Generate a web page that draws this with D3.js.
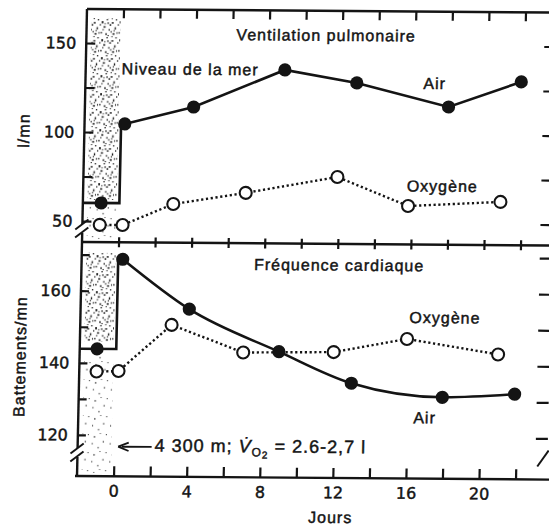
<!DOCTYPE html>
<html>
<head>
<meta charset="utf-8">
<script src="https://cdn.jsdelivr.net/npm/d3@7"></script>
<style>
  body { margin: 0; background: #fff; }
  svg text { font-family: "Liberation Sans", Arial, sans-serif; fill: #141414; letter-spacing: 1px;
             stroke: #141414; stroke-width: 0.45px; }
  svg .num text, svg text.num { font-family: "DejaVu Sans", sans-serif; letter-spacing: 0; }
</style>
</head>
<body>
<svg id="chart" width="549" height="526"></svg>
<script>
// Ventilation pulmonaire (l/mn)
const ventAirDays = [-1.0, 0.2, 3.95, 8.9, 12.85, 17.9, 21.85];
const ventAir     = [60.2, 104.7, 114.5, 135.7, 128.7, 115.6, 130.0];
const ventO2Days  = [-1.05, 0.2, 2.95, 6.9, 11.9, 15.8, 20.85];
const ventO2      = [47.9, 47.9, 59.9, 66.5, 75.8, 59.8, 62.5];

// Fréquence cardiaque (battements/mn)
const hrAirDays = [-1.05, 0.25, 3.95, 8.9, 12.9, 17.9, 21.85];
const hrAir     = [143.9, 168.8, 155.1, 143.5, 134.9, 131.2, 132.2];
const hrO2Days  = [-1.05, 0.15, 3.0, 6.95, 11.9, 15.9, 20.9];
const hrO2      = [137.6, 137.8, 150.7, 143.2, 143.5, 147.3, 143.2];

// day of arrival at altitude
const altitudeDay = 0;

// axes
const dayTicks   = d3.range(0, 23, 2);
const dayLabels  = [0, 4, 8, 12, 16, 20];
const ventTicks  = [150, 125, 100, 75, 50];
const ventLabels = [150, 100, 50];
const hrTicks    = [170, 160, 150, 140, 130, 120];
const hrLabels   = [160, 140, 120];

const ink = "#141414";
const svg = d3.select("#chart");

// the printed sheet is very slightly sheared
const sheet = svg.append("g")
  .attr("transform", "matrix(1,0.0076,-0.0214,1,10.19,-0.585)");

const x  = d3.scaleLinear().domain([-2, 23.8]).range([77, 548.4]);
const yV = d3.scaleLinear().domain([38.2, 169.1]).range([242, 9]);
const yH = d3.scaleLinear().domain([108.6, 173.5]).range([476, 242]);

// ---- stipple textures for the sea-level column ----
const defs = svg.append("defs");
const denseDots = [[2,3,1.8,2.2],[7,1,1.4,1.2],[12,4,2,1.4],[15,9,1.3,2.4],[4,8,2,1.6],[9,11,1.4,1.4],
  [1,14,1.6,1.3],[13,15,2,1.6],[6,15,1.3,2],[10,6,1.6,1.6],[16,1,1.3,1.3],[3,11,1.2,1.2],
  [11,13,1.2,1.4],[8,4,1.1,1.9],[14,12,1.2,1.2],[5,5,1.1,1.1],[0,6,1.2,1.4],[17,14,1,1.6],
  [8,17,1.4,1],[12,0,1.1,1.1]];
const sparseDots = [[3,4,1.2,1.4],[12,9,1.3,1.1],[7,15,1.1,1.2],[15,2,1,1],[1,11,1,1.2],[9,1,0.9,0.9]];
function pattern(id, dots) {
  const p = defs.append("pattern").attr("id", id)
    .attr("patternUnits", "userSpaceOnUse").attr("width", 18).attr("height", 18);
  p.selectAll("rect").data(dots).join("rect")
    .attr("x", d => d[0]).attr("y", d => d[1])
    .attr("width", d => d[2]).attr("height", d => d[3])
    .attr("fill", "#1c1c1c");
}
pattern("dense", denseDots);
pattern("sparse", sparseDots);

const shade = [
  { y: yV, lo: 62, hi: 164, fill: "url(#dense)" },
  { y: yV, lo: 40, hi: 58, fill: "url(#sparse)" },
  { y: yH, lo: 146, hi: 170.5, fill: "url(#dense)" },
  { y: yH, lo: 109.5, hi: 142, fill: "url(#sparse)" }
];
sheet.append("g").selectAll("rect").data(shade).join("rect")
  .attr("x", x(-1.75)).attr("width", x(-0.15) - x(-1.75))
  .attr("y", d => d.y(d.hi)).attr("height", d => d.y(d.lo) - d.y(d.hi))
  .attr("fill", d => d.fill);

// ---- frame ----
const frame = sheet.append("g").attr("stroke", ink).attr("stroke-width", 2.4).attr("fill", "none");
// top border, middle divider, bottom axis line
frame.append("line").attr("x1", x(-2)).attr("x2", 549).attr("y1", yV.range()[1]).attr("y2", yV.range()[1]);
frame.append("line").attr("x1", x(-2)).attr("x2", 549).attr("y1", 242).attr("y2", 242);
frame.append("line").attr("x1", x(-2) - 2).attr("x2", 549).attr("y1", 476).attr("y2", 476);
// left axis with breaks
frame.append("line").attr("x1", x(-2)).attr("x2", x(-2)).attr("y1", yV.range()[1]).attr("y2", 224);
frame.append("line").attr("x1", x(-2)).attr("x2", x(-2)).attr("y1", 233).attr("y2", 242);
frame.append("line").attr("x1", x(-2)).attr("x2", x(-2)).attr("y1", 242).attr("y2", 448);
frame.append("line").attr("x1", x(-2)).attr("x2", x(-2)).attr("y1", 457).attr("y2", 476);
function breakMark(cx, cy) {
  [-4, 4].forEach(o => {
    frame.append("line")
      .attr("x1", cx - 7).attr("y1", cy + o + 5)
      .attr("x2", cx + 6).attr("y2", cy + o - 5)
      .attr("stroke-width", 2);
  });
}
breakMark(x(-2), 228.5);
breakMark(x(-2), 452.5);
frame.append("line").attr("x1", 537).attr("y1", 463).attr("x2", 548).attr("y2", 447).attr("stroke-width", 2);

// ---- ticks via d3 axes ----
function styleAxis(g) {
  g.select(".domain").remove();
  g.selectAll(".tick line").attr("stroke", ink).attr("stroke-width", 2.2);
  g.selectAll(".tick text").attr("fill", ink);
}
// x ticks on top border (pointing down)
sheet.append("g").attr("transform", `translate(0,${yV.range()[1]})`)
  .call(d3.axisTop(x).tickValues(dayTicks).tickSizeInner(-9).tickSizeOuter(0).tickFormat(""))
  .call(styleAxis);
// x ticks across the middle divider
sheet.append("g").attr("transform", "translate(0,237)")
  .call(d3.axisBottom(x).tickValues(dayTicks).tickSizeInner(10).tickSizeOuter(0).tickFormat(""))
  .call(styleAxis);
// bottom x axis (ticks pointing up)
sheet.append("g").attr("class", "num").attr("transform", "translate(0,476)")
  .call(d3.axisBottom(x).tickValues(dayTicks).tickSizeInner(-10).tickSizeOuter(0).tickPadding(9)
    .tickFormat(d => dayLabels.includes(d) ? d : ""))
  .call(styleAxis)
  .call(g => g.selectAll(".tick text").attr("font-size", 16));

// left y axes
sheet.append("g").attr("class", "num").attr("transform", `translate(${x(-2)},0)`)
  .call(d3.axisLeft(yV).tickValues(ventTicks).tickSizeInner(-9).tickSizeOuter(0).tickPadding(10)
    .tickFormat(d => ventLabels.includes(d) ? d : ""))
  .call(styleAxis)
  .call(g => g.selectAll(".tick text").attr("font-size", 16));
sheet.append("g").attr("class", "num").attr("transform", `translate(${x(-2)},0)`)
  .call(d3.axisLeft(yH).tickValues(hrTicks).tickSizeInner(-8).tickSizeOuter(0).tickPadding(10)
    .tickFormat(d => hrLabels.includes(d) ? d : ""))
  .call(styleAxis)
  .call(g => g.selectAll(".tick text").attr("font-size", 16));

// right-hand ticks
sheet.append("g").attr("transform", "translate(547,0)")
  .call(d3.axisRight(yV).tickValues(ventTicks).tickSizeInner(-12).tickSizeOuter(0).tickFormat(""))
  .call(styleAxis);
sheet.append("g").attr("transform", "translate(547,0)")
  .call(d3.axisRight(yH).tickValues(hrTicks).tickSizeInner(-12).tickSizeOuter(0).tickFormat(""))
  .call(styleAxis);

// ---- series ----
const zip = (ds, vs) => ds.map((d, i) => [d, vs[i]]);
const ventAirPts = zip(ventAirDays, ventAir);
const ventO2Pts  = zip(ventO2Days, ventO2);
const hrAirPts   = zip(hrAirDays, hrAir);
const hrO2Pts    = zip(hrO2Days, hrO2);

const lineV = d3.line().x(d => x(d[0])).y(d => yV(d[1]));
const lineH = d3.line().x(d => x(d[0])).y(d => yH(d[1]));
const curveH = d3.line().x(d => x(d[0])).y(d => yH(d[1])).curve(d3.curveMonotoneX);

const lines = sheet.append("g").attr("fill", "none").attr("stroke", ink);

// sea level -> altitude step, then air series
lines.append("path").attr("stroke-width", 2.6)
  .attr("d", lineV([[-2, ventAir[0]], [altitudeDay, ventAir[0]], [altitudeDay, ventAir[1]], ...ventAirPts.slice(1)]));
lines.append("path").attr("stroke-width", 2.6)
  .attr("d", lineH([[-2, hrAir[0]], [altitudeDay, hrAir[0]], [altitudeDay, hrAir[1]], hrAirPts[1]]));
lines.append("path").attr("stroke-width", 2.6)
  .attr("d", curveH(hrAirPts.slice(1)));

// oxygen series (dotted)
lines.append("path").attr("stroke-width", 2.4).attr("stroke-dasharray", "2.2,2.6")
  .attr("d", lineV(ventO2Pts));
lines.append("path").attr("stroke-width", 2.4).attr("stroke-dasharray", "2.2,2.6")
  .attr("d", lineH(hrO2Pts));

// markers
const marks = sheet.append("g");
marks.selectAll(".va").data(ventAirPts).join("circle").attr("class", "va")
  .attr("cx", d => x(d[0])).attr("cy", d => yV(d[1])).attr("r", 6.6).attr("fill", ink);
marks.selectAll(".ha").data(hrAirPts).join("circle").attr("class", "ha")
  .attr("cx", d => x(d[0])).attr("cy", d => yH(d[1])).attr("r", 6.6).attr("fill", ink);
marks.selectAll(".vo").data(ventO2Pts).join("circle").attr("class", "vo")
  .attr("cx", d => x(d[0])).attr("cy", d => yV(d[1])).attr("r", 6)
  .attr("fill", "#fff").attr("stroke", ink).attr("stroke-width", 2.1);
marks.selectAll(".ho").data(hrO2Pts).join("circle").attr("class", "ho")
  .attr("cx", d => x(d[0])).attr("cy", d => yH(d[1])).attr("r", 6)
  .attr("fill", "#fff").attr("stroke", ink).attr("stroke-width", 2.1);

// ---- text ----
const txt = sheet.append("g").attr("font-size", 16);
const labels = [
  { t: "Ventilation pulmonaire", x: 227, y: 39 },
  { t: "Niveau de la mer", x: 113, y: 74 },
  { t: "Air", x: 415, y: 86.4 },
  { t: "Oxygène", x: 400.5, y: 189 },
  { t: "Fréquence cardiaque", x: 249.5, y: 268.7 },
  { t: "Oxygène", x: 406, y: 320.5 },
  { t: "Air", x: 412, y: 420.7 },
  { t: "Jours", x: 309, y: 521 }
];
txt.selectAll(".lab").data(labels).join("text").attr("class", "lab")
  .attr("x", d => d.x).attr("y", d => d.y).text(d => d.t);

// axis titles
txt.append("text").attr("transform", "translate(22,131) rotate(-90)")
  .attr("text-anchor", "middle").text("l/mn");
txt.append("text").attr("transform", "translate(23,357) rotate(-90)")
  .attr("text-anchor", "middle").text("Battements/mn");

// altitude note with arrow
const noteY = 446.4;
sheet.append("line").attr("x1", 121).attr("x2", 151).attr("y1", noteY).attr("y2", noteY)
  .attr("stroke", ink).attr("stroke-width", 1.8);
sheet.append("path")
  .attr("d", `M117.5,${noteY} L128,${noteY - 4.2} M117.5,${noteY} L128,${noteY + 4.2}`)
  .attr("stroke", ink).attr("stroke-width", 1.8).attr("fill", "none");
const note = txt.append("text").attr("x", 154).attr("y", 451).attr("font-size", 18);
note.append("tspan").text("4 300 m; ");
note.append("tspan").attr("font-style", "italic").text("V\u0307");
note.append("tspan").attr("font-size", 12).attr("dy", 4).text("O");
note.append("tspan").attr("font-size", 10).attr("dy", 2).text("2");
note.append("tspan").attr("dy", -6).text(" = 2.6-2,7 l");
</script>
</body>
</html>
